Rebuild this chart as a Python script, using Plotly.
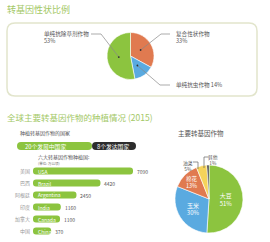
import math
import plotly.graph_objects as go

W, H = 270, 242


def px(x):
    return x / W


def py(y):
    return 1 - y / H


# ---------------- data ----------------
trait_labels = ["复合性状作物", "单纯抗虫作物", "单纯抗除草剂作物"]
trait_values = [33, 14, 53]

group_labels = ["20个发展中国家", "8个发达国家"]
group_counts = [20, 8]

countries_cn = ["美国", "巴西", "阿根廷", "印度", "加拿大", "中国"]
countries_en = ["USA", "Brazil", "Argentina", "India", "Canada", "China"]
area = [7090, 4420, 2450, 1160, 1100, 370]

crops = ["大豆", "玉米", "棉花", "油菜", "其他"]
crop_share = [51, 30, 13, 5, 1]

# ---------------- style ----------------
GREEN = "#8cc43f"
ORANGE = "#e07a50"
BLUE = "#5aaae0"
YELLOW = "#f5d35a"
DARK = "#2d2d2d"
TITLE = "#a3c866"
FONT = "Noto Sans CJK SC"
TXT = "#555"

fig = go.Figure()

# ---- pie 1 ----
p1 = dict(x0=107, x1=154, y0=32.5, y1=79.5)
fig.add_trace(go.Pie(
    values=trait_values, labels=trait_labels, sort=False, direction="clockwise",
    rotation=0, textinfo="none", hoverinfo="skip", showlegend=False,
    marker=dict(colors=[ORANGE, BLUE, GREEN], line=dict(color="white", width=0.6)),
    domain=dict(x=[px(p1["x0"]), px(p1["x1"])], y=[py(p1["y1"]), py(p1["y0"])]),
))

# ---- pie 2 ----
p2 = dict(x0=175, x1=243, y0=165, y1=233)
fig.add_trace(go.Pie(
    values=crop_share, labels=crops, sort=False, direction="clockwise",
    rotation=0, hoverinfo="skip", showlegend=False,
    text=[f"{c}<br>{v}%" if v >= 10 else "" for c, v in zip(crops, crop_share)],
    textinfo="text", textposition="inside", insidetextorientation="horizontal",
    textfont=dict(color="white", size=6, family=FONT),
    marker=dict(colors=[GREEN, BLUE, ORANGE, YELLOW, DARK], line=dict(color="white", width=0.6)),
    domain=dict(x=[px(p2["x0"]), px(p2["x1"])], y=[py(p2["y1"]), py(p2["y0"])]),
))

# ---- country bars ----
B = 1120  # visual start offset for label room
fig.add_trace(go.Bar(
    orientation="h", y=list(range(len(area))), x=[v + B for v in area], base=-B,
    width=0.6, marker=dict(color=GREEN, cornerradius=4, line=dict(width=0)),
    hoverinfo="skip", showlegend=False, xaxis="x", yaxis="y",
))

# ---- country group bar ----
pad = 9
segs = [c + pad for c in group_counts]
fig.add_trace(go.Bar(
    orientation="h", y=[0], x=[-segs[0]], base=[segs[0]], width=1,
    marker=dict(color=GREEN, cornerradius=4, line=dict(width=0)),
    hoverinfo="skip", showlegend=False, xaxis="x2", yaxis="y2",
))
fig.add_trace(go.Bar(
    orientation="h", y=[0], x=[segs[1]], base=[segs[0]], width=1,
    marker=dict(color=DARK, cornerradius=4, line=dict(width=0)),
    hoverinfo="skip", showlegend=False, xaxis="x2", yaxis="y2",
))

ann = []
shapes = []

# titles
ann.append(dict(text="转基因性状比例", x=px(5), y=py(10), xref="paper", yref="paper",
                xanchor="left", yanchor="middle", showarrow=False,
                font=dict(size=9, color=TITLE, family=FONT)))
ann.append(dict(text="全球主要转基因作物的种植情况 (2015)", x=px(5), y=py(117), xref="paper", yref="paper",
                xanchor="left", yanchor="middle", showarrow=False,
                font=dict(size=8.5, color=TITLE, family=FONT)))

# rounded box around pie 1
bx0, bx1, by0, by1, r = 7, 257, 23, 96, 8
path = (f"M {px(bx0 + r)},{py(by0)} L {px(bx1 - r)},{py(by0)} "
        f"Q {px(bx1)},{py(by0)} {px(bx1)},{py(by0 + r)} L {px(bx1)},{py(by1 - r)} "
        f"Q {px(bx1)},{py(by1)} {px(bx1 - r)},{py(by1)} L {px(bx0 + r)},{py(by1)} "
        f"Q {px(bx0)},{py(by1)} {px(bx0)},{py(by1 - r)} L {px(bx0)},{py(by0 + r)} "
        f"Q {px(bx0)},{py(by0)} {px(bx0 + r)},{py(by0)} Z")
shapes.append(dict(type="path", path=path, xref="paper", yref="paper",
                   line=dict(color="#e2e5cc", width=1.5), layer="below"))

# pie 1 label dots & leaders
cx = (p1["x0"] + p1["x1"]) / 2
cy = (p1["y0"] + p1["y1"]) / 2
rad = (p1["x1"] - p1["x0"]) / 2
tot = sum(trait_values)
cum = 0
dots = []
for v in trait_values:
    th = 2 * math.pi * (cum + v / 2) / tot
    cum += v
    rr = rad * 0.5
    dots.append((cx + rr * math.sin(th), cy - rr * math.cos(th)))

label_specs = [
    (f"{trait_labels[0]}<br>{trait_values[0]}%", 174, 37, "left", (170, 34), (161, 34)),
    (f"{trait_labels[1]} {trait_values[1]}%", 174, 85, "left", (170, 85), (160, 85)),
    (f"{trait_labels[2]}<br>{trait_values[2]}%", 42, 37, "left", (91, 34), (101, 34)),
]
for (txt, tx, ty, anc, e0, e1), (dx, dy) in zip(label_specs, dots):
    ann.append(dict(text=txt, x=px(tx), y=py(ty), xref="paper", yref="paper",
                    xanchor=anc, yanchor="middle", align="left", showarrow=False,
                    font=dict(size=5.6, color=TXT, family=FONT)))
    shapes.append(dict(type="path", xref="paper", yref="paper",
                       path=f"M {px(e0[0])},{py(e0[1])} L {px(e1[0])},{py(e1[1])} L {px(dx)},{py(dy)}",
                       line=dict(color="#888", width=0.7)))
    shapes.append(dict(type="circle", xref="paper", yref="paper",
                       x0=px(dx - 0.9), x1=px(dx + 0.9), y0=py(dy + 0.9), y1=py(dy - 0.9),
                       fillcolor="#333", line=dict(width=0)))

# left section texts
ann.append(dict(text="种植转基因作物的国家", x=px(18), y=py(133), xref="paper", yref="paper",
                xanchor="left", yanchor="middle", showarrow=False,
                font=dict(size=5, color=TXT, family=FONT)))
ann.append(dict(text="六大转基因作物种植国:", x=px(36), y=py(157), xref="paper", yref="paper",
                xanchor="left", yanchor="middle", showarrow=False,
                font=dict(size=5, color=TXT, family=FONT)))
ann.append(dict(text="(单位: 万公顷)", x=px(36), y=py(163), xref="paper", yref="paper",
                xanchor="left", yanchor="middle", showarrow=False,
                font=dict(size=3.5, color="#666", family=FONT)))

# group bar texts
ann.append(dict(text=group_labels[0], x=0, y=0, xref="x2", yref="y2", xanchor="left", xshift=6,
                yanchor="middle", showarrow=False, font=dict(size=5.8, color="white", family=FONT)))
ann.append(dict(text=group_labels[1], x=segs[0], y=0, xref="x2", yref="y2", xanchor="left", xshift=3,
                yanchor="middle", showarrow=False, font=dict(size=5.8, color="white", family=FONT)))

# country bar texts
for i, (cn, en, v) in enumerate(zip(countries_cn, countries_en, area)):
    ann.append(dict(text=cn, x=-B, y=i, xref="x", yref="y", xanchor="right", xshift=-1,
                    yanchor="middle", showarrow=False, font=dict(size=5, color="#999", family=FONT)))
    ann.append(dict(text=en, x=-B, y=i, xref="x", yref="y", xanchor="left", xshift=3,
                    yanchor="middle", showarrow=False, font=dict(size=5, color="white", family=FONT)))
    ann.append(dict(text=str(v), x=v, y=i, xref="x", yref="y", xanchor="left", xshift=2,
                    yanchor="middle", showarrow=False, font=dict(size=5, color=TXT, family=FONT)))

# pie 2 title + outside labels
ann.append(dict(text="主要转基因作物", x=px(201), y=py(133), xref="paper", yref="paper",
                xanchor="center", yanchor="middle", showarrow=False,
                font=dict(size=6.5, color=TXT, family=FONT)))
out_specs = [
    (3, 188, 165, [(193, 162), (198, 162), (198, 169)]),
    (4, 213, 159, [(209, 157), (204, 157), (204, 168)]),
]
for idx, tx, ty, pts in out_specs:
    ann.append(dict(text=f"{crops[idx]}<br>{crop_share[idx]}%", x=px(tx), y=py(ty), xref="paper", yref="paper",
                    xanchor="center", yanchor="middle", showarrow=False,
                    font=dict(size=4.8, color=TXT, family=FONT)))
    shapes.append(dict(type="path", xref="paper", yref="paper",
                       path="M " + " L ".join(f"{px(a)},{py(b)}" for a, b in pts),
                       line=dict(color="#666", width=0.7)))

fig.update_layout(
    width=W, height=H, margin=dict(l=0, r=0, t=0, b=0),
    paper_bgcolor="white", plot_bgcolor="rgba(0,0,0,0)",
    font=dict(family=FONT),
    barmode="overlay",
    xaxis=dict(domain=[px(33), px(133)], range=[-B, max(area)], visible=False, fixedrange=True),
    yaxis=dict(domain=[py(237), py(165)], range=[len(area) - 0.5, -0.5], visible=False, fixedrange=True),
    xaxis2=dict(domain=[px(17), px(136)], range=[0, sum(segs)], visible=False, anchor="y2"),
    yaxis2=dict(domain=[py(150), py(142)], range=[-0.5, 0.5], visible=False, anchor="x2"),
    annotations=ann, shapes=shapes,
)

fig.write_html("out.html")
